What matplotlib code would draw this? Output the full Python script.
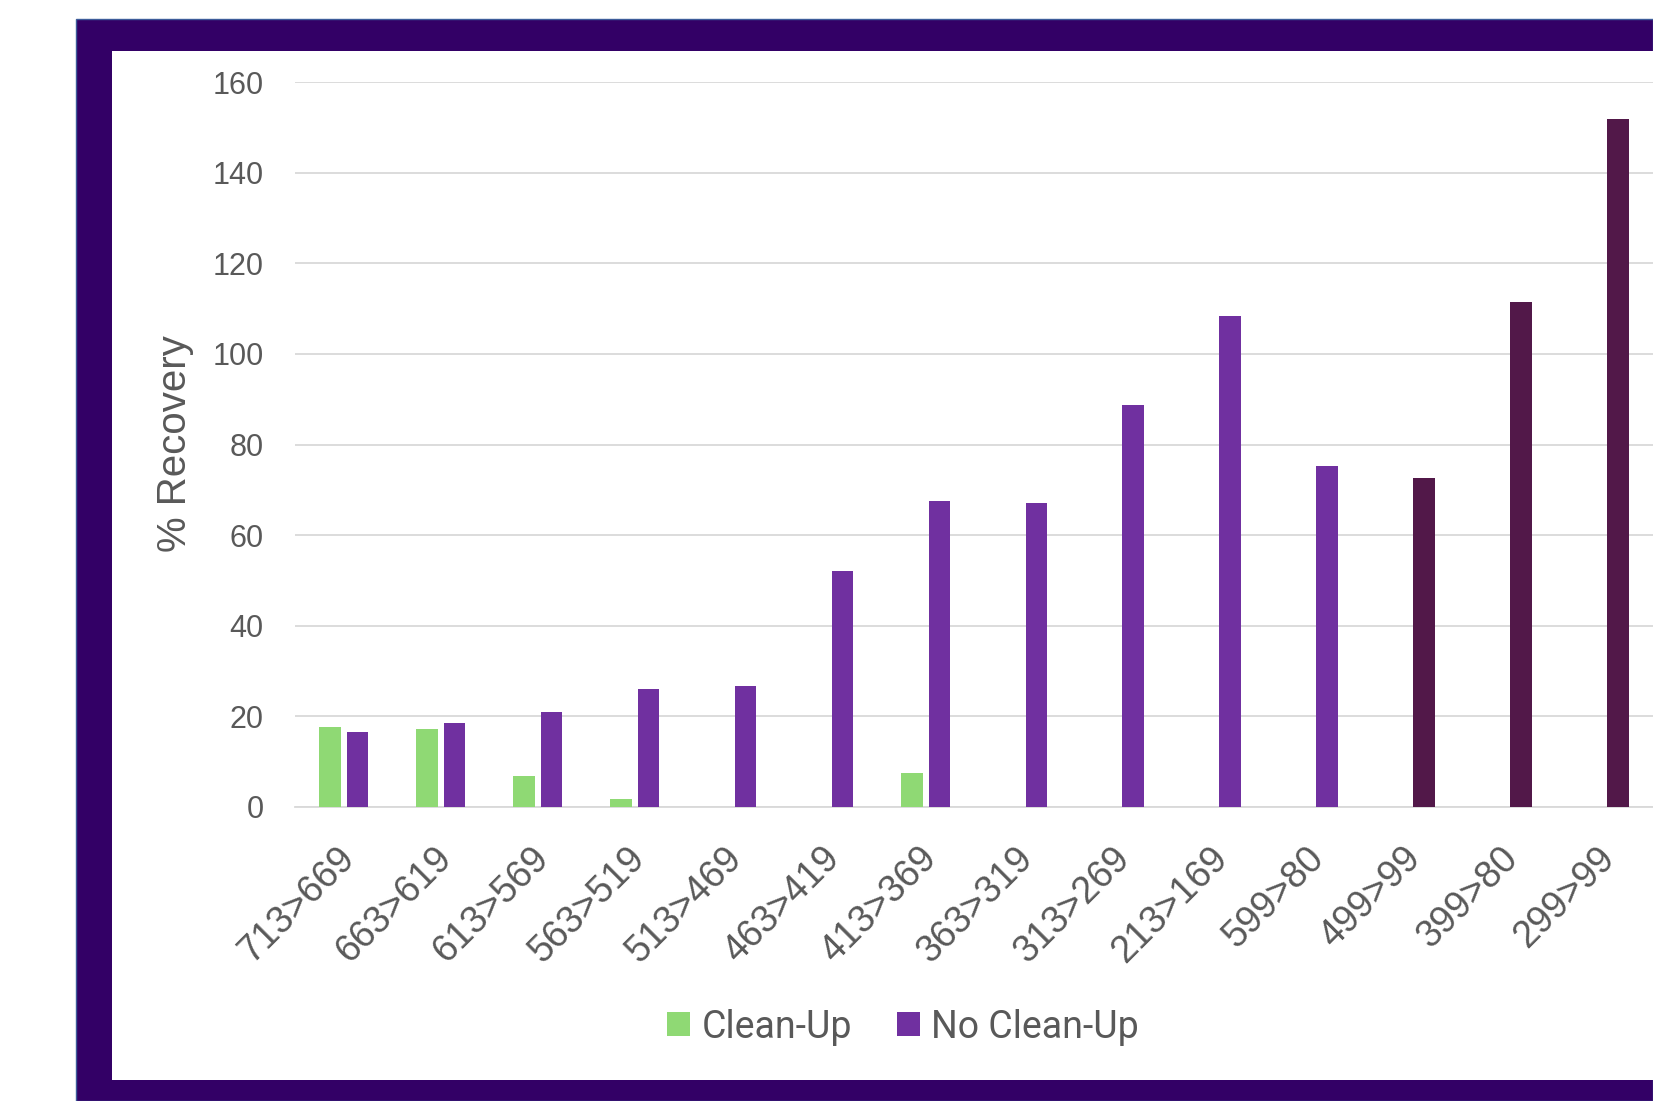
import numpy as np
import matplotlib
matplotlib.use("Agg")
import matplotlib.pyplot as plt
from matplotlib.patches import Rectangle
from matplotlib.transforms import ScaledTranslation

# ---------------- data ----------------
categories = ["713>669", "663>619", "613>569", "563>519", "513>469", "463>419",
              "413>369", "363>319", "313>269", "213>169", "599>80", "499>99",
              "399>80", "299>99"]
clean_up = [17.7, 17.3, 6.8, 1.8, None, None, 7.6, None, None, None, None, None, None, None]
no_clean_up = [16.5, 18.5, 21.0, 26.0, 26.7, 52.1, 67.5, 67.2, 88.8, 108.4, 75.3, 72.7, 111.5, 151.8]
y_ticks = [0, 20, 40, 60, 80, 100, 120, 140, 160]

# ---------------- styles ----------------
GREEN = "#8FD974"
PURPLE = "#7030A0"
DARK = "#521849"
no_clean_colors = [PURPLE] * 11 + [DARK] * 3
FRAME = "#330066"
GRID = "#D9D9D9"
TXT = "#595959"

W, H = 1653, 1101
fig = plt.figure(figsize=(W / 100, H / 100), dpi=100)
fig.patch.set_facecolor("white")


def fx(px):
    return px / W


def fy(py):
    return 1 - py / H


fig.patches.append(Rectangle((fx(76), 0), 1 - fx(76), fy(19), transform=fig.transFigure,
                             facecolor=FRAME, edgecolor="#3D5C9A", linewidth=1.0, zorder=-3))
fig.patches.append(Rectangle((fx(112), fy(1080)), 1 - fx(112), fy(51) - fy(1080),
                             transform=fig.transFigure, facecolor="white", edgecolor="none", zorder=-2))

ax_left, ax_right = 295.3, 1653
ax_top, ax_bot = 82, 807
ax = fig.add_axes([fx(ax_left), fy(ax_bot), fx(ax_right) - fx(ax_left), fy(ax_top) - fy(ax_bot)])
ax.patch.set_visible(False)

x = np.arange(len(categories))
bw = 0.225
off = 0.142
gx = [xi - off for xi, v in zip(x, clean_up) if v is not None]
gv = [v for v in clean_up if v is not None]
ax.bar(gx, gv, width=bw, color=GREEN, zorder=3, label="Clean-Up")
ax.bar(x + off, no_clean_up, width=bw, color=no_clean_colors, zorder=3)
# legend proxy
ax.bar([0], [0], width=0, color=PURPLE, label="No Clean-Up")

ax.set_xlim(-0.5, len(categories) - 0.5)
ax.set_ylim(0, 160)
ax.set_yticks(y_ticks)
ax.yaxis.grid(True, color=GRID, linewidth=1.3, zorder=0)
ax.set_axisbelow(True)
for s in ["left", "right", "top"]:
    ax.spines[s].set_visible(False)
ax.spines["bottom"].set_color(GRID)
ax.spines["bottom"].set_linewidth(1.3)
ax.tick_params(axis="both", length=0)
ax.tick_params(axis="y", pad=22.8, labelsize=22, labelcolor=TXT)
for lab in ax.get_yticklabels():
    lab.set_fontfamily("Liberation Sans")

ax.set_xticks(x)
ax.set_xticklabels(categories, rotation=45, ha="right", va="center",
                   rotation_mode="anchor", fontsize=27, color=TXT, fontfamily="Liberation Sans")
ax.tick_params(axis="x", pad=0)
for lab in ax.get_xticklabels():
    lab.set_transform(lab.get_transform() + ScaledTranslation(5 / 100, -46 / 100, fig.dpi_scale_trans))

ylab = fig.text(fx(175), fy(444), "% Recovery", rotation=90, ha="center", va="center",
                fontsize=29, color=TXT, fontfamily="Liberation Sans")

handles, labels = ax.get_legend_handles_labels()
leg = fig.legend(handles=handles, labels=labels,
                 loc="center", bbox_to_anchor=(fx(903), fy(1027)), ncol=2, frameon=False,
                 prop={"family": "Roboto", "size": 27}, labelcolor=TXT,
                 handlelength=0.62, handleheight=0.62, handletextpad=0.3, columnspacing=1.2)

fig.savefig("out.png", dpi=100, facecolor="white")
